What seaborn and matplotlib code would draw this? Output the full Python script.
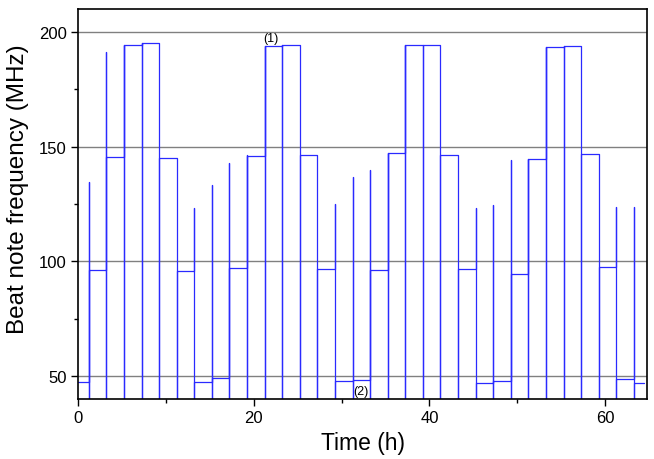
import matplotlib
matplotlib.use("Agg")
import matplotlib.pyplot as plt
import seaborn as sns
import numpy as np
import pandas as pd

# step levels (MHz), one per ~2 h segment
levels = [47.6, 96.2, 145.3, 194.5, 195.0, 145.0, 95.9, 47.2, 49.0, 97.0,
          145.7, 193.9, 194.2, 146.2, 96.7, 48.0, 48.5, 96.3, 147.4, 194.5,
          194.2, 146.4, 96.5, 47.0, 47.7, 94.6, 144.4, 193.6, 193.9, 146.8,
          97.5, 48.6, 47.0]
# switching times (h)
switch_t = [1.28, 3.26, 5.26, 7.25, 9.22, 11.25, 13.2, 15.25, 17.2, 19.2,
            21.25, 23.25, 25.25, 27.25, 29.25, 31.25, 33.25, 35.25, 37.25, 39.25,
            41.25, 43.25, 45.25, 47.25, 49.25, 51.25, 53.25, 55.25, 57.25, 59.25,
            61.25, 63.25]
# top of the transient spike at each switch (MHz)
spike_top = [134.7, 191.4, 194.5, 195.0, 195.0, 145.0, 123.2, 133.4, 142.9, 146.2,
             194.0, 194.2, 194.2, 146.2, 125.0, 136.8, 139.8, 147.4, 194.5, 194.5,
             194.2, 146.4, 123.4, 124.6, 144.3, 144.4, 193.6, 193.9, 193.9, 146.8,
             123.7, 123.8]
t_start, t_end = 0.0, 64.4
spike_low = 0.0

# build the trace: level -> spike up -> drop out -> new level
t, f = [t_start], [levels[0]]
for i, ts in enumerate(switch_t):
    t += [ts, ts, ts, ts]
    f += [levels[i], spike_top[i], spike_low, levels[i + 1]]
t.append(t_end)
f.append(levels[-1])
df = pd.DataFrame({"time": t, "freq": f})

sns.set_style("white")
plt.rcParams["font.family"] = ["Liberation Sans", "DejaVu Sans"]
plt.rcParams["text.color"] = "black"
plt.rcParams["axes.labelcolor"] = "black"
plt.rcParams["xtick.color"] = "black"
plt.rcParams["ytick.color"] = "black"

fig = plt.figure(figsize=(6.54, 4.6), dpi=100)
ax = fig.add_axes([0.119, 0.1304, 0.871, 0.848])

for yg in [50, 100, 150, 200]:
    ax.axhline(yg, color="#808080", lw=1.0, zorder=1)

sns.lineplot(data=df, x="time", y="freq", sort=False, estimator=None,
             color="#2a2aff", lw=0.9, ax=ax, zorder=2)

ax.set_xlim(0, 64.8)
ax.set_ylim(40, 210)
ax.set_xticks([0, 20, 40, 60])
ax.set_xticks([10, 30, 50], minor=True)
ax.set_yticks([50, 100, 150, 200])
ax.set_yticks([75, 125, 175], minor=True)
ax.tick_params(axis="both", which="major", direction="out", length=5, width=1,
               labelsize=12, bottom=True, left=True, top=False, right=False, pad=3)
ax.tick_params(axis="both", which="minor", direction="out", length=3, width=1,
               bottom=True, left=True)
for s in ax.spines.values():
    s.set_color("black")
    s.set_linewidth(1.2)

ax.set_xlabel("Time (h)", fontsize=16.5, labelpad=4)
ax.set_ylabel("Beat note frequency (MHz)", fontsize=17.5)
ax.yaxis.set_label_coords(-0.085, 0.54)

ax.text(22.0, 197.2, "(1)", fontsize=9, ha="center", va="center")
ax.text(32.2, 43.4, "(2)", fontsize=9, ha="center", va="center")

fig.savefig("out.png", dpi=100)
